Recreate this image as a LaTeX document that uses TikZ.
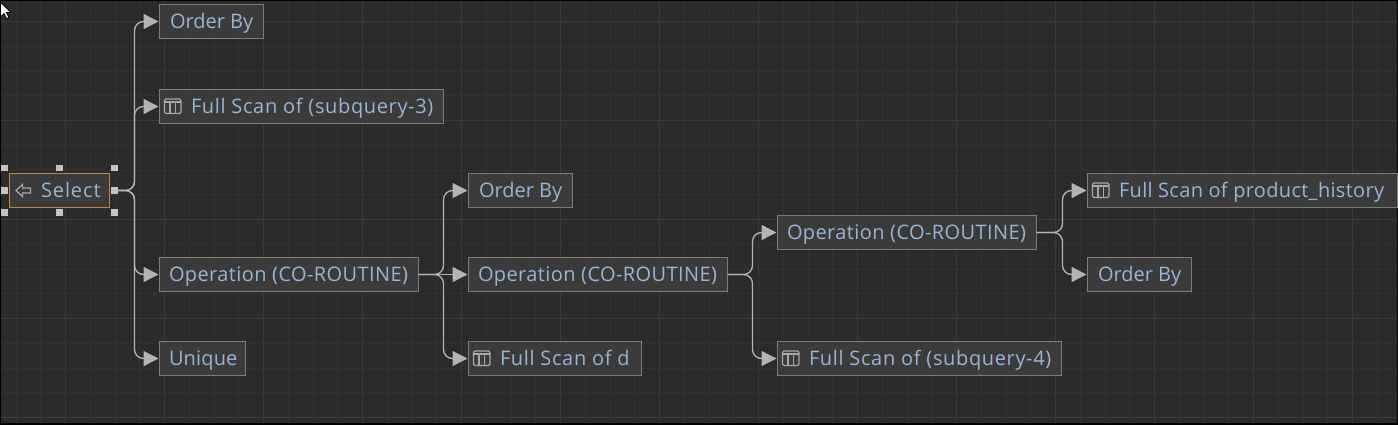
\documentclass[tikz,border=0pt]{standalone}
\usepackage{fontspec}
\setmainfont{Open Sans}
\usetikzlibrary{arrows.meta,calc}
\definecolor{bgc}{HTML}{2B2B2B}
\definecolor{minorc}{HTML}{323232}
\definecolor{majorc}{HTML}{3A3A3A}
\definecolor{boxc}{HTML}{3B3B3B}
\definecolor{edgec}{HTML}{7C7C7C}
\definecolor{txtc}{HTML}{98B4D8}
\definecolor{linec}{HTML}{B4B4B4}
\definecolor{selc}{HTML}{C8843C}
\definecolor{handc}{HTML}{C4C4C4}
\definecolor{iconc}{HTML}{A8A8A8}
\tikzset{
  x=1pt,y=-1pt,
  opbox/.style={draw=edgec,fill=boxc,line width=1.2pt,outer sep=0pt,minimum height=34pt,inner sep=0pt,anchor=west,text=txtc,font=\fontsize{20}{24}\selectfont,text height=17pt,text depth=2.5pt},
  selbox/.style={opbox,draw=selc},
  hnd/.style={draw=none,fill=handc,minimum size=6.5pt,inner sep=0pt},
  conn/.style={draw=linec,line width=1.3pt,rounded corners=9pt,shorten >=1pt,-{Triangle[length=15pt,width=15pt,fill=linec]}},
  icn/.style={draw=iconc,line width=1.2pt}
}
% box width, left padding, letter spacing, text
\newcommand{\lbl}[4]{\makebox[#1pt][l]{\hspace{#2pt}\addfontfeature{LetterSpace=#3}#4}}
\newcommand{\tableicon}[1]{%
  \draw[icn,rounded corners=1.5pt] ($(#1.west)+(5,-7.5)$) rectangle ($(#1.west)+(21.5,7)$);
  \draw[icn] ($(#1.west)+(5,-4.5)$) -- ($(#1.west)+(21.5,-4.5)$);
  \draw[icn] ($(#1.west)+(10.5,-4.5)$) -- ($(#1.west)+(10.5,7)$);
  \draw[icn] ($(#1.west)+(16.2,-4.5)$) -- ($(#1.west)+(16.2,7)$);
}
\newcommand{\opedge}[2]{\draw[conn] (#1.east) -| ([xshift=-25pt]#2.west) -- (#2.west);}
\begin{document}
\begin{tikzpicture}
\useasboundingbox (0,0) rectangle (1398,424);
\fill[bgc] (0,0) rectangle (1398,424);
% grid
\foreach \i in {-1,...,56} {\draw[minorc,line width=1pt] ({16+24.75*\i},0) -- ({16+24.75*\i},424);}
\foreach \i in {0,...,17} {\draw[minorc,line width=1pt] (0,{21.5+24.75*\i-24.75}) -- (1398,{21.5+24.75*\i-24.75});}
\foreach \i in {0,...,14} {\draw[majorc,line width=1pt] ({65.5+99*\i},0) -- ({65.5+99*\i},424);}
\foreach \i in {0,...,4} {\draw[majorc,line width=1pt] (0,{21.5+99*\i}) -- (1398,{21.5+99*\i});}
% frame
\draw[black,line width=2pt] (0,0) rectangle (1398,424);
% nodes
\node[opbox] (ob1) at (159.5,21.5) {\lbl{104}{10.5}{0}{Order By}};
\node[opbox] (fs3) at (159.5,106.5) {\lbl{284}{31.5}{3.2}{Full Scan of (subquery-3)}};
\node[selbox] (sel) at (9.5,190.5) {\lbl{100}{31.5}{4.5}{Select}};
\node[opbox] (op1) at (159.5,274.5) {\lbl{259}{9.5}{2}{Operation (CO-ROUTINE)}};
\node[opbox] (un) at (159.5,358.5) {\lbl{86}{9.5}{0.8}{Unique}};
\node[opbox] (ob2) at (468.5,190.5) {\lbl{104}{10.5}{0}{Order By}};
\node[opbox] (op2) at (468.5,274.5) {\lbl{259}{9.5}{2}{Operation (CO-ROUTINE)}};
\node[opbox] (fsd) at (468.5,358.5) {\lbl{173}{31.5}{3.2}{Full Scan of d}};
\node[opbox] (op3) at (777.5,232.5) {\lbl{259}{9.5}{2}{Operation (CO-ROUTINE)}};
\node[opbox] (fs4) at (777.5,358.5) {\lbl{284}{31.5}{3.2}{Full Scan of (subquery-4)}};
\node[opbox] (fsp) at (1087.5,190.5) {\lbl{310}{31.5}{1.6}{Full Scan of product\_history}};
\node[opbox] (ob3) at (1087.5,274.5) {\lbl{104}{10.5}{0}{Order By}};
% icons
\tableicon{fs3}\tableicon{fsd}\tableicon{fs4}\tableicon{fsp}
\draw[icn,line join=miter] ($(sel.west)+(6.5,0)$) -- ($(sel.west)+(13,-6)$) -- ($(sel.west)+(13,-2.5)$) -- ($(sel.west)+(21,-2.5)$) -- ($(sel.west)+(21,2.5)$) -- ($(sel.west)+(13,2.5)$) -- ($(sel.west)+(13,6)$) -- cycle;
% handles
\node[hnd] (hnw) at (4.5,168) {};
\node[hnd] (hn) at (59.5,168) {};
\node[hnd] (hne) at (114.5,168) {};
\node[hnd] (hw) at (4.5,190.5) {};
\node[hnd] (he) at (114.5,190.5) {};
\node[hnd] (hsw) at (4.5,212.5) {};
\node[hnd] (hs) at (59.5,212.5) {};
\node[hnd] (hse) at (114.5,212.5) {};
% connectors
\opedge{he}{ob1}\opedge{he}{fs3}\opedge{he}{op1}\opedge{he}{un}
\opedge{op1}{ob2}\draw[conn] (op1.east) -- (op2.west);\opedge{op1}{fsd}
\opedge{op2}{op3}\opedge{op2}{fs4}
\opedge{op3}{fsp}\opedge{op3}{ob3}
% cursor
\fill[white,draw=black,line width=0.8pt] (0.5,2) -- (0.5,17) -- (4,13.5) -- (6.5,18.5) -- (9,17.5) -- (6.5,12.5) -- (11,12.5) -- cycle;
\end{tikzpicture}
\end{document}
